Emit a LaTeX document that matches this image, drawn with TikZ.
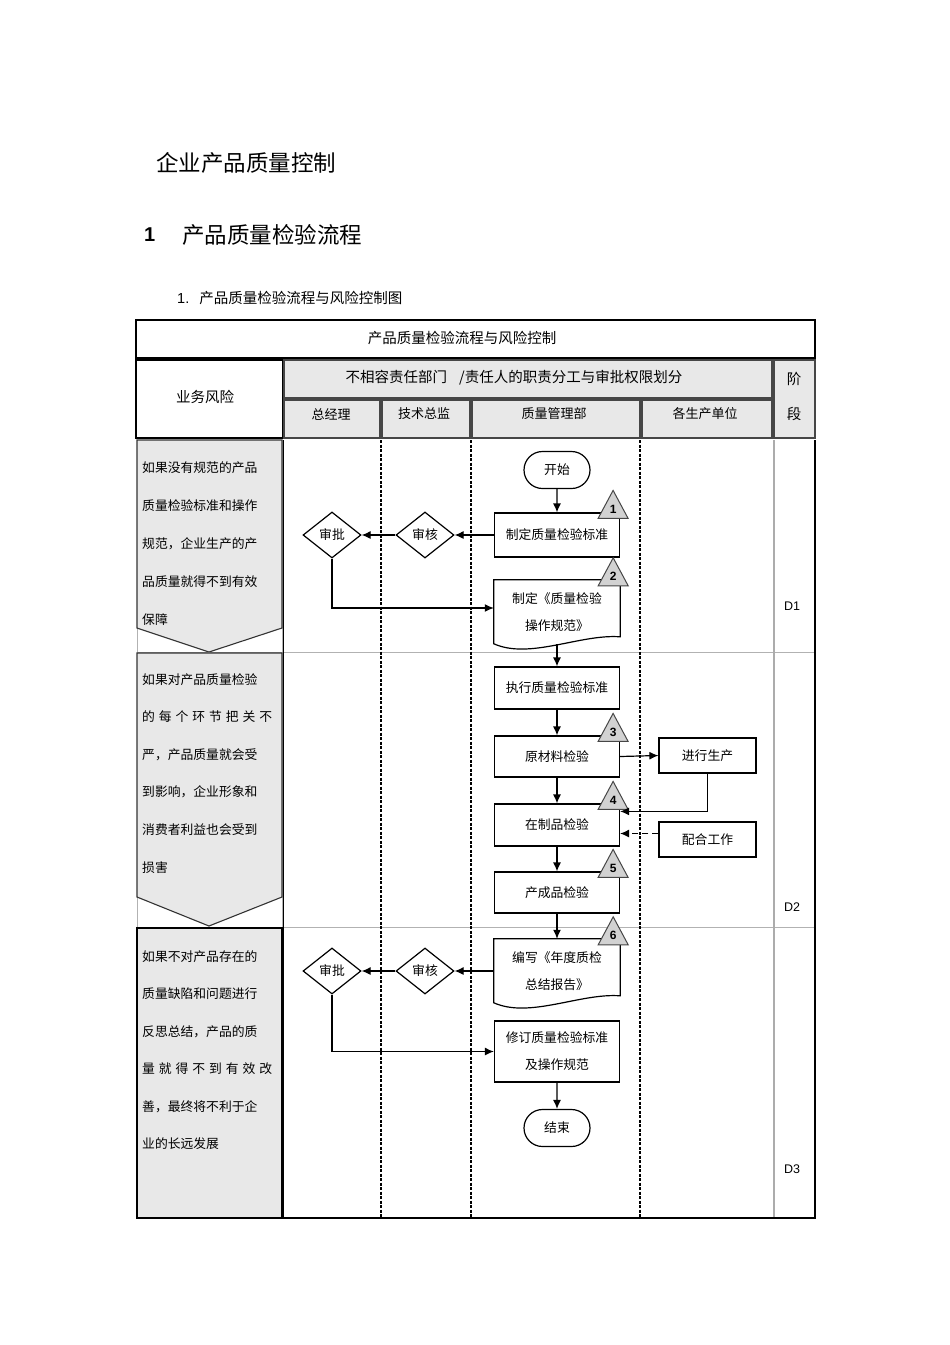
\documentclass[tikz,border=0pt]{standalone}
\usepackage{fontspec}
\setmainfont{Noto Sans CJK SC}
\newfontfamily\latin{Liberation Sans}
\usetikzlibrary{arrows.meta,shapes.geometric,shapes.misc,calc}
\newcommand\qtri[3]{%
  \draw[tri] ($(#1)+(-22,6)$) -- ($(#1)+(8,6)$) -- ($(#1)+(-7,-22)$) -- cycle;
  \node[trinum] (#2) at ($(#1)+(-7,-3)$) {#3};}
\newcommand\docoutline[1]{%
  \draw[line] (#1.north west) -- (#1.north east) -- ($(#1.north east)+(0,57)$)
    .. controls ($(#1.north east)+(-40,54)$) and ($(#1.north west)+(36,80)$) ..
    ($(#1.north west)+(0,64)$) -- cycle;}
\begin{document}
\begin{tikzpicture}[x=1pt,y=-1pt,
  txt/.style={inner sep=0pt},
  line/.style={line width=1.2pt, draw=black},
  arr/.style={line width=1.2pt, draw=black, -{Latex[length=9pt,width=8pt]}},
  nfont/.style={font=\fontsize{12.8}{27}\selectfont},
  proc/.style={draw, line width=1.2pt, minimum width=125pt, minimum height=42pt, inner sep=0pt, align=center, nfont, fill=white},
  smallbox/.style={draw, line width=1.2pt, minimum width=97pt, minimum height=35pt, inner sep=0pt, nfont},
  term/.style={draw, rounded rectangle, line width=1.2pt, minimum width=66pt, minimum height=37pt, inner sep=0pt, nfont},
  dia/.style={draw, diamond, aspect=1.26, line width=1.2pt, minimum width=58pt, minimum height=46pt, inner sep=0pt, nfont},
  docn/.style={minimum width=126pt, minimum height=64pt, inner sep=0pt, align=center, nfont},
  hdr/.style={fill=gray!18, draw=gray!55!black, line width=1.3pt},
  risk/.style={fill=gray!18, draw=gray!40!black, line width=1.1pt},
  riskcell/.style={draw=gray!60, line width=0.8pt},
  risktxt/.style={inner sep=0pt, anchor=base west, font=\fontsize{12.8}{15}\selectfont},
  vdash/.style={line width=1.2pt, draw=black, dash pattern=on 3pt off 1.5pt},
  tri/.style={fill=gray!35, draw=gray!55!black, line width=1pt},
  trinum/.style={inner sep=0pt, font=\latin\bfseries\fontsize{12}{14}\selectfont},
  hfont/.style={font=\fontsize{14.5}{17}\selectfont},
  sfont/.style={font=\fontsize{13}{15}\selectfont}
]
\fill[white] (0,0) rectangle (950,1345);
\useasboundingbox (0,0) rectangle (950,1345);

% titles
\node[txt, anchor=west, font=\fontsize{22.5}{26}\selectfont] (t1) at (156,163) {企业产品质量控制};
\node[txt, anchor=west, font=\latin\bfseries\fontsize{20}{24}\selectfont] (t2n) at (144,235) {1};
\node[txt, anchor=west, font=\fontsize{22.5}{26}\selectfont] (t2) at (182,235) {产品质量检验流程};
\node[txt, anchor=west, font=\fontsize{14.5}{17}\selectfont] (t3) at (177,298) {{\latin 1.}\hspace{10pt}产品质量检验流程与风险控制图};

% header
\draw[line width=1.4pt] (136,320) rectangle (815,358);
\node[txt, hfont] (ttl) at (462,338) {产品质量检验流程与风险控制};
\draw[line width=1.4pt] (136,360) rectangle (283,438);
\node[txt, hfont] (hrisk) at (205,397) {业务风险};
\draw[hdr] (284,360) rectangle (772,398);
\node[txt, hfont] (hdiv) at (514,378) {不相容责任部门\hspace{12pt}/责任人的职责分工与审批权限划分};
\draw[hdr] (284,400) rectangle (380,438);
\draw[hdr] (382,400) rectangle (470,438);
\draw[hdr] (472,400) rectangle (640,438);
\draw[hdr] (642,400) rectangle (772,438);
\draw[hdr] (774,360) rectangle (815,438);
\node[txt, sfont] (h1) at (331,414) {总经理};
\node[txt, sfont] (h2) at (424,414) {技术总监};
\node[txt, sfont] (h3) at (554,414) {质量管理部};
\node[txt, sfont] (h4) at (705,414) {各生产单位};
\node[txt, hfont] (h5a) at (794,379) {阶};
\node[txt, hfont] (h5b) at (794,414) {段};

% body frame
\draw[gray!60, line width=1pt] (283,652) -- (815,652);
\draw[gray!60, line width=1pt] (283,927) -- (815,927);
\draw[vdash] (381,440) -- (381,1218);
\draw[vdash] (471,440) -- (471,1218);
\draw[vdash] (640,440) -- (640,1218);
\draw[gray!65, line width=1.4pt] (774,440) -- (774,1218);
\draw[line width=1.2pt] (283,440) -- (283,1218) -- (815,1218) -- (815,440);

% stage labels
\node[txt, font=\latin\fontsize{12.5}{15}\selectfont] (d1) at (792,606) {D1};
\node[txt, font=\latin\fontsize{12.5}{15}\selectfont] (d2) at (792,907) {D2};
\node[txt, font=\latin\fontsize{12.5}{15}\selectfont] (d3) at (792,1169) {D3};

% risk column
\draw[riskcell] (137,440) rectangle (282,652);
\draw[risk] (137,440) -- (282,440) -- (282,628) -- (209,652) -- (137,628) -- cycle;
\draw[riskcell] (137,652) rectangle (282,927);
\draw[risk] (137,653) -- (282,653) -- (282,897) -- (209,926) -- (137,897) -- cycle;
\draw[risk, draw=black, line width=1.3pt] (137,928) rectangle (282,1218);

\foreach \t [count=\i] in {如果没有规范的产品, 质量检验标准和操作, 规范，企业生产的产, 品质量就得不到有效, 保障}
  \node[risktxt] (ra-\i) at (142, 472+38*\i-38) {\t};
\foreach \t [count=\i] in {如果对产品质量检验, {\makebox[130pt][s]{的\hfill 每\hfill 个\hfill 环\hfill 节\hfill 把\hfill 关\hfill 不}}, 严，产品质量就会受, 到影响，企业形象和, 消费者利益也会受到, 损害}
  \node[risktxt] (rb-\i) at (142, 684+37.6*\i-37.6) {\t};
\foreach \t [count=\i] in {如果不对产品存在的, 质量缺陷和问题进行, 反思总结，产品的质, {\makebox[130pt][s]{量\hfill 就\hfill 得\hfill 不\hfill 到\hfill 有\hfill 效\hfill 改}}, 善，最终将不利于企, 业的长远发展}
  \node[risktxt] (rc-\i) at (142, 961+37.5*\i-37.5) {\t};

% flow nodes
\node[term] (start) at (557,470) {开始};
\node[proc, minimum height=44pt] (n1) at (557,535) {制定质量检验标准};
\node[dia] (sh1) at (425,535) {审核};
\node[dia] (sp1) at (332,535) {审批};
\node[docn] (n2) at (557,612) {制定《质量检验\\操作规范》};
\docoutline{n2}
\node[proc] (n3) at (557,688) {执行质量检验标准};
\node[proc, minimum height=41pt] (n4) at (557,756.5) {原材料检验};
\node[proc] (n5) at (557,825) {在制品检验};
\node[proc, minimum height=41pt] (n6) at (557,892.5) {产成品检验};
\node[smallbox] (p1) at (707.5,755.5) {进行生产};
\node[smallbox] (p2) at (707.5,839.5) {配合工作};
\node[docn] (n7) at (557,971) {编写《年度质检\\总结报告》};
\docoutline{n7}
\node[dia] (sh2) at (425,971) {审核};
\node[dia] (sp2) at (332,971) {审批};
\node[proc, minimum height=61pt] (n8) at (557,1051.5) {修订质量检验标准\\及操作规范};
\node[term] (end) at (557,1128) {结束};

% triangles
\qtri{n1.north east}{k1}{1}
\qtri{n2.north east}{k2}{2}
\qtri{n4.north east}{k3}{3}
\qtri{n5.north east}{k4}{4}
\qtri{n6.north east}{k5}{5}
\qtri{n7.north east}{k6}{6}

% helper coordinates
\coordinate (c2) at ($(n2.west)+(0,-4)$);
\coordinate (c5) at ($(n5.north east)+(0,8)$);
\coordinate (cp) at ($(p2.west)+(0,-6)$);

% connectors
\draw[arr] (start) -- (n1);
\draw[arr] (n1) -- (sh1);
\draw[arr] (sh1) -- (sp1);
\draw[arr] (sp1.south) |- (c2);
\draw[arr] (n2.south) -- (n3.north);
\draw[arr] (n3) -- (n4);
\draw[arr] (n4) -- (n5);
\draw[arr] (n5) -- (n6);
\draw[arr] (n4.east) -- (p1.west);
\draw[arr] (p1.south) |- (c5);
\draw[arr, dash pattern=on 6pt off 4pt] (cp) -- (cp -| n5.east);
\draw[arr] (n6.south) -- (n7.north);
\draw[arr] (n7.west) -- (sh2.east);
\draw[arr] (sh2) -- (sp2);
\draw[arr] (sp2.south) |- (n8.west);
\draw[arr] (n8) -- (end);
\end{tikzpicture}
\end{document}
